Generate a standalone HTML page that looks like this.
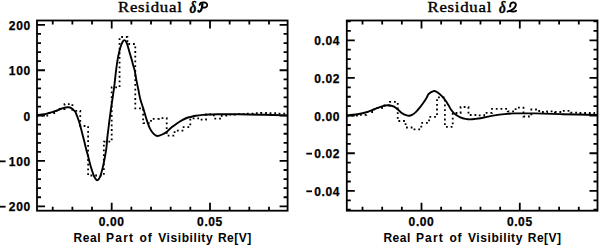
<!DOCTYPE html><html><head><meta charset="utf-8"><style>html,body{margin:0;padding:0;background:#fff;width:600px;height:245px;overflow:hidden}svg{display:block}.t{font-family:"Liberation Sans",sans-serif;font-weight:bold;font-size:12px;letter-spacing:0.45px}.n{font-family:"Liberation Sans",sans-serif;font-weight:bold;font-size:12px;letter-spacing:0.6px;stroke:#000;stroke-width:0.25px}.ti{font-family:"Liberation Serif",serif;font-weight:normal;font-size:14px;stroke:#000;stroke-width:0.35px;letter-spacing:0.6px}.tg{font-family:"Liberation Serif",serif;font-weight:bold;font-style:italic;font-size:17px;stroke:#000;stroke-width:0.35px}</style></head><body>
<svg width="600" height="245" viewBox="0 0 600 245">
<rect x="37" y="20.5" width="250.6" height="190.2" fill="none" stroke="#000" stroke-width="1.8"/>
<path d="M52.72,210.7V206.7M52.72,20.5V24.5M72.38,210.7V206.7M72.38,20.5V24.5M92.04,210.7V206.7M92.04,20.5V24.5M111.7,210.7V202.7M111.7,20.5V28.5M131.36,210.7V206.7M131.36,20.5V24.5M151.02,210.7V206.7M151.02,20.5V24.5M170.68,210.7V206.7M170.68,20.5V24.5M190.34,210.7V206.7M190.34,20.5V24.5M210,210.7V202.7M210,20.5V28.5M229.66,210.7V206.7M229.66,20.5V24.5M249.32,210.7V206.7M249.32,20.5V24.5M268.98,210.7V206.7M268.98,20.5V24.5M37,206.3H45M287.6,206.3H279.6M37,197.23H41M287.6,197.23H283.6M37,188.16H41M287.6,188.16H283.6M37,179.09H41M287.6,179.09H283.6M37,170.02H41M287.6,170.02H283.6M37,160.95H45M287.6,160.95H279.6M37,151.88H41M287.6,151.88H283.6M37,142.81H41M287.6,142.81H283.6M37,133.74H41M287.6,133.74H283.6M37,124.67H41M287.6,124.67H283.6M37,115.6H45M287.6,115.6H279.6M37,106.53H41M287.6,106.53H283.6M37,97.46H41M287.6,97.46H283.6M37,88.39H41M287.6,88.39H283.6M37,79.32H41M287.6,79.32H283.6M37,70.25H45M287.6,70.25H279.6M37,61.18H41M287.6,61.18H283.6M37,52.11H41M287.6,52.11H283.6M37,43.04H41M287.6,43.04H283.6M37,33.97H41M287.6,33.97H283.6M37,24.9H45M287.6,24.9H279.6" fill="none" stroke="#000" stroke-width="1.8"/>
<text x="111.7" y="226.3" text-anchor="middle" class="n">0.00</text>
<text x="210" y="226.3" text-anchor="middle" class="n">0.05</text>
<text x="30.7" y="29.8" text-anchor="end" class="n">200</text>
<text x="30.7" y="75.15" text-anchor="end" class="n">100</text>
<text x="30.7" y="120.5" text-anchor="end" class="n">0</text>
<text x="30.7" y="165.85" text-anchor="end" class="n">100</text>
<rect x="-0.5" y="160.45" width="6.1" height="1.8" fill="#000"/>
<text x="30.7" y="211.2" text-anchor="end" class="n">200</text>
<rect x="-0.5" y="205.8" width="6.1" height="1.8" fill="#000"/>
<text x="73.6" y="242.2" class="t" textLength="27.4" lengthAdjust="spacing">Real</text>
<text x="106.1" y="242.2" class="t" textLength="27.4" lengthAdjust="spacing">Part</text>
<text x="139.6" y="242.2" class="t" textLength="12.6" lengthAdjust="spacing">of</text>
<text x="158.2" y="242.2" class="t" textLength="54.8" lengthAdjust="spacing">Visibility</text>
<text x="218" y="242.2" class="t" textLength="33.6" lengthAdjust="spacing">Re[V]</text>
<rect x="346.8" y="20.5" width="250.7" height="190.2" fill="none" stroke="#000" stroke-width="1.8"/>
<path d="M362.52,210.7V206.7M362.52,20.5V24.5M382.18,210.7V206.7M382.18,20.5V24.5M401.84,210.7V206.7M401.84,20.5V24.5M421.5,210.7V202.7M421.5,20.5V28.5M441.16,210.7V206.7M441.16,20.5V24.5M460.82,210.7V206.7M460.82,20.5V24.5M480.48,210.7V206.7M480.48,20.5V24.5M500.14,210.7V206.7M500.14,20.5V24.5M519.8,210.7V202.7M519.8,20.5V28.5M539.46,210.7V206.7M539.46,20.5V24.5M559.12,210.7V206.7M559.12,20.5V24.5M578.78,210.7V206.7M578.78,20.5V24.5M346.8,209.72H350.8M597.5,209.72H593.5M346.8,200.31H350.8M597.5,200.31H593.5M346.8,190.9H354.8M597.5,190.9H589.5M346.8,181.49H350.8M597.5,181.49H593.5M346.8,172.07H350.8M597.5,172.07H593.5M346.8,162.66H350.8M597.5,162.66H593.5M346.8,153.25H354.8M597.5,153.25H589.5M346.8,143.84H350.8M597.5,143.84H593.5M346.8,134.42H350.8M597.5,134.42H593.5M346.8,125.01H350.8M597.5,125.01H593.5M346.8,115.6H354.8M597.5,115.6H589.5M346.8,106.19H350.8M597.5,106.19H593.5M346.8,96.77H350.8M597.5,96.77H593.5M346.8,87.36H350.8M597.5,87.36H593.5M346.8,77.95H354.8M597.5,77.95H589.5M346.8,68.54H350.8M597.5,68.54H593.5M346.8,59.12H350.8M597.5,59.12H593.5M346.8,49.71H350.8M597.5,49.71H593.5M346.8,40.3H354.8M597.5,40.3H589.5M346.8,30.89H350.8M597.5,30.89H593.5M346.8,21.47H350.8M597.5,21.47H593.5" fill="none" stroke="#000" stroke-width="1.8"/>
<text x="421.5" y="226.3" text-anchor="middle" class="n">0.00</text>
<text x="519.8" y="226.3" text-anchor="middle" class="n">0.05</text>
<text x="340" y="45.2" text-anchor="end" class="n">0.04</text>
<text x="340" y="82.85" text-anchor="end" class="n">0.02</text>
<text x="340" y="120.5" text-anchor="end" class="n">0.00</text>
<text x="340" y="158.15" text-anchor="end" class="n">0.02</text>
<rect x="306.3" y="152.75" width="5.7" height="1.8" fill="#000"/>
<text x="340" y="195.8" text-anchor="end" class="n">0.04</text>
<rect x="306.3" y="190.4" width="5.7" height="1.8" fill="#000"/>
<text x="383.4" y="242.2" class="t" textLength="27.4" lengthAdjust="spacing">Real</text>
<text x="415.9" y="242.2" class="t" textLength="27.4" lengthAdjust="spacing">Part</text>
<text x="449.4" y="242.2" class="t" textLength="12.6" lengthAdjust="spacing">of</text>
<text x="468" y="242.2" class="t" textLength="54.8" lengthAdjust="spacing">Visibility</text>
<text x="527.8" y="242.2" class="t" textLength="33.6" lengthAdjust="spacing">Re[V]</text>
<path d="M37,115.2 C38.2,115.05 42.32,114.65 44.2,114.3 C46.08,113.95 46.95,113.45 48.3,113.1 C49.65,112.75 50.95,112.62 52.3,112.2 C53.65,111.78 55.03,111.13 56.4,110.6 C57.77,110.07 59.13,109.48 60.5,109 C61.87,108.52 63.42,107.98 64.6,107.7 C65.78,107.42 66.7,107.33 67.6,107.3 C68.5,107.27 69.17,107.22 70,107.5 C70.83,107.78 71.85,108.42 72.6,109 C73.35,109.58 73.93,110.28 74.5,111 C75.07,111.72 75.2,111.42 76,113.3 C76.8,115.18 78.35,119.3 79.3,122.3 C80.25,125.3 80.88,128.17 81.7,131.3 C82.52,134.43 83.48,138.23 84.2,141.1 C84.92,143.97 85.32,145.83 86,148.5 C86.68,151.17 87.53,154.17 88.3,157.1 C89.07,160.03 89.75,163.18 90.6,166.1 C91.45,169.02 92.62,172.52 93.4,174.6 C94.18,176.68 94.7,177.67 95.3,178.6 C95.9,179.53 96.4,180.13 97,180.2 C97.6,180.27 98.22,180.08 98.9,179 C99.58,177.92 100.35,176.1 101.1,173.7 C101.85,171.3 102.77,167.37 103.4,164.6 C104.03,161.83 104.4,159.87 104.9,157.1 C105.4,154.33 106,151.22 106.4,148 C106.8,144.78 106.95,141.13 107.3,137.8 C107.65,134.47 108.12,131.13 108.5,128 C108.88,124.87 109.2,122.08 109.6,119 C110,115.92 110.4,113 110.9,109.5 C111.4,106 112.03,101.92 112.6,98 C113.17,94.08 113.73,90.5 114.3,86 C114.87,81.5 115.45,75.4 116,71 C116.55,66.6 117.05,62.87 117.6,59.6 C118.15,56.33 118.7,53.83 119.3,51.4 C119.9,48.97 120.62,46.67 121.2,45 C121.78,43.33 122.28,42.22 122.8,41.4 C123.32,40.58 123.8,40.13 124.3,40.1 C124.8,40.07 125.3,40.47 125.8,41.2 C126.3,41.93 126.72,42.8 127.3,44.5 C127.88,46.2 128.62,49.05 129.3,51.4 C129.98,53.75 130.77,56.33 131.4,58.6 C132.03,60.87 132.55,63.02 133.1,65 C133.65,66.98 134.17,68.07 134.7,70.5 C135.23,72.93 135.7,76.45 136.3,79.6 C136.9,82.75 137.62,86.07 138.3,89.4 C138.98,92.73 139.5,96.2 140.4,99.6 C141.3,103 142.67,106.47 143.7,109.8 C144.73,113.13 145.55,116.47 146.6,119.6 C147.65,122.73 148.82,126.22 150,128.6 C151.18,130.98 152.48,132.67 153.7,133.9 C154.92,135.13 155.88,135.9 157.3,136 C158.72,136.1 160.57,135.27 162.2,134.5 C163.83,133.73 165.47,132.63 167.1,131.4 C168.73,130.17 170.37,128.42 172,127.1 C173.63,125.78 175.27,124.62 176.9,123.5 C178.53,122.38 180.17,121.32 181.8,120.4 C183.43,119.48 185.25,118.57 186.7,118 C188.15,117.43 189,117.37 190.5,117 C192,116.63 193.63,116.15 195.7,115.8 C197.77,115.45 200.52,115.12 202.9,114.9 C205.28,114.68 207.63,114.6 210,114.5 C212.37,114.4 212.1,114.33 217.1,114.3 C222.1,114.27 232.02,114.22 240,114.3 C247.98,114.38 257.07,114.62 265,114.8 C272.93,114.98 283.83,115.3 287.6,115.4" fill="none" stroke="#000" stroke-width="1.9" stroke-linejoin="round"/>
<path d="M346.8,115.4 C348.3,115.25 352.67,114.98 355.8,114.5 C358.93,114.02 362.35,113.45 365.6,112.5 C368.85,111.55 372.32,109.92 375.3,108.8 C378.28,107.68 381.32,106.4 383.5,105.8 C385.68,105.2 386.77,105.12 388.4,105.2 C390.03,105.28 392.2,105.97 393.3,106.3 C394.4,106.63 394.1,106.53 395,107.2 C395.9,107.87 397.48,109.27 398.7,110.3 C399.92,111.33 401.08,112.58 402.3,113.4 C403.52,114.22 404.87,114.8 406,115.2 C407.13,115.6 408.08,115.87 409.1,115.8 C410.12,115.73 410.98,115.42 412.1,114.8 C413.22,114.18 414.57,113.25 415.8,112.1 C417.03,110.95 418.27,109.42 419.5,107.9 C420.73,106.38 421.98,104.75 423.2,103 C424.42,101.25 425.9,98.9 426.8,97.4 C427.7,95.9 427.47,95.05 428.6,94 C429.73,92.95 432.18,91.42 433.6,91.1 C435.02,90.78 435.8,91.33 437.1,92.1 C438.4,92.87 440,94.3 441.4,95.7 C442.8,97.1 444.38,99.02 445.5,100.5 C446.62,101.98 447.17,103.07 448.1,104.6 C449.03,106.13 449.92,108.08 451.1,109.7 C452.28,111.32 453.67,113.03 455.2,114.3 C456.73,115.57 458.6,116.53 460.3,117.3 C462,118.07 463.7,118.55 465.4,118.9 C467.1,119.25 468.8,119.4 470.5,119.4 C472.2,119.4 473.9,119.1 475.6,118.9 C477.3,118.7 479.13,118.47 480.7,118.2 C482.27,117.93 482.68,117.77 485,117.3 C487.32,116.83 491.38,115.93 494.6,115.4 C497.82,114.87 501.05,114.43 504.3,114.1 C507.55,113.77 510.83,113.52 514.1,113.4 C517.37,113.28 520.42,113.4 523.9,113.4 C527.38,113.4 528.55,113.27 535,113.4 C541.45,113.53 552.18,113.93 562.6,114.2 C573.02,114.47 591.68,114.87 597.5,115" fill="none" stroke="#000" stroke-width="1.9" stroke-linejoin="round"/>
<path d="M37,115.5 L40.96,115.5 L40.96,115.5 L48.82,115.5 L48.82,113 L56.68,113 L56.68,109 L64.54,109 L64.54,104.1 L72.4,104.1 L72.4,110.8 L80.26,110.8 L80.26,126 L88.12,126 L88.12,175.5 L95.98,175.5 L95.98,175.5 L103.84,175.5 L103.84,141.7 L111.7,141.7 L111.7,87.4 L119.56,87.4 L119.56,37 L127.42,37 L127.42,44 L135.28,44 L135.28,108.4 L143.14,108.4 L143.14,123.2 L151,123.2 L151,118.8 L158.86,118.8 L158.86,118.2 L166.72,118.2 L166.72,135.6 L174.58,135.6 L174.58,130.7 L182.44,130.7 L182.44,127.1 L190.3,127.1 L190.3,118.3 L198.16,118.3 L198.16,119.7 L206.02,119.7 L206.02,114.3 L213.88,114.3 L213.88,118.7 L221.74,118.7 L221.74,115.6 L229.6,115.6 L229.6,114.6 L237.46,114.6 L237.46,114.1 L245.32,114.1 L245.32,113.6 L253.18,113.6 L253.18,113.2 L261.04,113.2 L261.04,113 L268.9,113 L268.9,113.2 L276.76,113.2 L276.76,113.6 L284.62,113.6 L284.62,113.6 L287.6,113.6" fill="none" stroke="#000" stroke-width="1.8" stroke-dasharray="1.8 2.9"/>
<path d="M346.8,115.8 L350.56,115.8 L350.56,115.6 L358.42,115.6 L358.42,114.8 L366.28,114.8 L366.28,112 L374.14,112 L374.14,108 L382,108 L382,105.5 L389.86,105.5 L389.86,101.9 L397.72,101.9 L397.72,121 L405.58,121 L405.58,127.5 L413.44,127.5 L413.44,129.3 L421.3,129.3 L421.3,122.9 L429.16,122.9 L429.16,116.9 L437.02,116.9 L437.02,97.3 L444.88,97.3 L444.88,126.9 L452.74,126.9 L452.74,113 L460.6,113 L460.6,107 L468.46,107 L468.46,115 L476.32,115 L476.32,115.4 L484.18,115.4 L484.18,112.9 L492.04,112.9 L492.04,108.9 L499.9,108.9 L499.9,108.9 L507.76,108.9 L507.76,111.3 L515.62,111.3 L515.62,107.7 L523.48,107.7 L523.48,116.5 L531.34,116.5 L531.34,109.5 L539.2,109.5 L539.2,112 L547.06,112 L547.06,111.3 L554.92,111.3 L554.92,112 L562.78,112 L562.78,110.8 L570.64,110.8 L570.64,112.6 L578.5,112.6 L578.5,113 L586.36,113 L586.36,113 L594.22,113 L594.22,113.8 L597.5,113.8" fill="none" stroke="#000" stroke-width="1.8" stroke-dasharray="1.8 2.9"/>
<text x="0" y="0" class="ti" transform="translate(118,12.3) scale(1.2,1)">Residual</text>
<text x="0" y="0" class="tg" transform="translate(189.6,13.1) scale(0.8,1)">&#948;</text>
<g fill="none" stroke="#000" stroke-linecap="round"><path d="M199.6,5.0 C199.9,3.0 201.6,2.3 203.8,2.4 C206.2,2.5 207.5,3.8 207.2,5.5 C206.8,7.2 204.8,8.0 202.6,7.4" stroke-width="1.8"/><path d="M202.4,3.8 C202.3,6.5 201.9,9.3 200.6,10.9 C199.8,11.9 198.8,12.0 198.3,11.0" stroke-width="2.2"/></g>
<text x="0" y="0" class="ti" transform="translate(427.5,12.3) scale(1.2,1)">Residual</text>
<text x="0" y="0" class="tg" transform="translate(499.1,13.1) scale(0.8,1)">&#948;</text>
<g fill="none" stroke="#000" stroke-linecap="round"><path d="M510.2,6.6 C509.9,3.8 511.6,2.3 513.4,2.4 C515.4,2.5 516.1,4 515.7,5.6 C515.1,8 512.6,10 509.4,11.1" stroke-width="1.9"/><path d="M507.6,11.6 C508.6,10.4 510.1,10.8 511.6,11.3 C513.1,11.8 514.6,11.8 516.1,10.7" stroke-width="1.9"/></g>
</svg></body></html>
